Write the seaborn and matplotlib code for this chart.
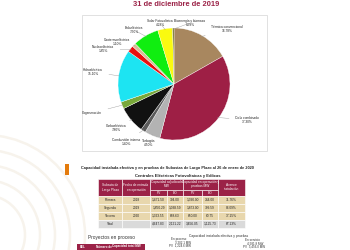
import matplotlib
matplotlib.use("Agg")
import matplotlib.pyplot as plt
import seaborn as sns
import numpy as np
from matplotlib.patches import Rectangle, Arc

# ---------------- data ----------------
tecnologias = ["Térmica convencional", "Ciclo combinado", "Turbogás", "Combustión interna",
               "Carboeléctrica", "Cogeneración", "Hidroeléctrica", "Nucleoeléctrica",
               "Geotermoeléctrica", "Eoloeléctrica", "Solar Fotovoltaica", "Bioenergía y biomasa"]
porcentajes = [16.78, 37.30, 4.50, 1.40, 7.80, 2.00, 15.10, 1.85, 1.10, 7.50, 4.28, 0.39]
colores = ["#a8875f", "#9e1f45", "#b3b3b3", "#5a5a5a", "#111111", "#79a83a",
           "#1de4f2", "#e81010", "#d8bc98", "#10ee10", "#fafa10", "#6b6b2a"]

subastas = ["Primera", "Segunda", "Tercera"]
fechas = ["2018", "2019", "2020"]
adj_pv = [1471.50, 1850.29, 1323.55]
adj_eo = [394.00, 1038.59, 688.63]
op_pv = [1390.00, 1873.00, 650.00]
op_eo = [344.00, 799.59, 60.75]
avance = [71.76, 86.09, 37.15]
total_row = [4647.83, 2121.22, 3456.05, 1125.73]
total_avance = 67.13

# ---------------- style ----------------
sns.set_theme(style="white")
plt.rcParams["font.family"] = ["Liberation Sans", "DejaVu Sans"]

W, H = 350, 250
fig = plt.figure(figsize=(3.5, 2.5), dpi=100)
bg = fig.add_axes([0, 0, 1, 1])
bg.set_xlim(0, W)
bg.set_ylim(H, 0)
bg.axis("off")

def ff(x, y):
    return x / W, 1 - y / H

MAROON = "#9b2247"

# faint watermark seal bottom-left
for r in [40, 55, 70, 85, 100]:
    bg.add_patch(Arc((-15, 235), 2 * r, 2 * r, theta1=250, theta2=110, angle=0,
                     color="#f7f3ec", lw=1.8, zorder=0))

# title
bg.text(176, 5, "31 de diciembre de 2019", color=MAROON, fontsize=5.4,
        fontweight="bold", ha="center", va="center")

# pie box
bg.add_patch(Rectangle((82, 15), 185, 136, facecolor="white", edgecolor="#dcdcdc", lw=0.6))

# pie
cx, cy, r = 174, 84, 56
pax = fig.add_axes([(cx - r) / W, 1 - (cy + r) / H, 2 * r / W, 2 * r / H])
wedges, _ = pax.pie(porcentajes, colors=colores, startangle=90, counterclock=False,
                    radius=1, wedgeprops=dict(linewidth=0.25, edgecolor="white"))
pax.set_xlim(-1, 1)
pax.set_ylim(-1, 1)
pax.set_aspect("equal")
pax.axis("off")

label_pos = {
    "Térmica convencional": (227, 29),
    "Ciclo combinado": (247, 120),
    "Turbogás": (149, 143),
    "Combustión interna": (126, 142),
    "Carboeléctrica": (116, 128),
    "Cogeneración": (92, 113),
    "Hidroeléctrica": (93, 72),
    "Nucleoeléctrica": (103, 49),
    "Geotermoeléctrica": (117, 42),
    "Eoloeléctrica": (134, 30),
    "Solar Fotovoltaica": (160, 23),
    "Bioenergía y biomasa": (190, 23),
}
for w, name, p in zip(wedges, tecnologias, porcentajes):
    ang = np.deg2rad((w.theta1 + w.theta2) / 2)
    xy = (np.cos(ang) * 0.98, np.sin(ang) * 0.98)
    txt = name if name == "Cogeneración" else f"{name}\n{p:.2f}%"
    pax.annotate(txt, xy=xy, xytext=ff(*label_pos[name]), textcoords="figure fraction",
                 fontsize=2.3, ha="center", va="center", color="#222222",
                 annotation_clip=False,
                 arrowprops=dict(arrowstyle="-", color="#9a9a9a", lw=0.3,
                                 shrinkA=2, shrinkB=0))

# ---------------- table section ----------------
bg.add_patch(Rectangle((65, 164), 4, 11, facecolor="#e47b0c", edgecolor="none"))
bg.text(81, 168, "Capacidad instalada efectiva y en pruebas de Subastas de Largo Plazo al 26 de enero de 2020",
        fontsize=2.75, fontweight="bold", va="center", ha="left", color="#222222")
bg.text(178, 176, "Centrales Eléctricas Fotovoltaicas y Eólicas", fontsize=3.0,
        fontweight="bold", va="center", ha="center", color="#222222")

col_edges = [98, 122, 150, 167, 183, 202, 218, 245]
h_top, h_mid, h_bot = 179, 189.5, 196
row_edges = [196, 204, 212, 220, 228]
TAN = "#e8d7ad"
GRAY = "#dadada"

def cell(x0, x1, y0, y1, fc, text="", tc="#222222", fs=2.3, bold=False):
    bg.add_patch(Rectangle((x0, y0), x1 - x0, y1 - y0, facecolor=fc, edgecolor="white", lw=0.4))
    if text:
        bg.text((x0 + x1) / 2, (y0 + y1) / 2, text, fontsize=fs, color=tc, ha="center",
                va="center", fontweight="bold" if bold else "normal", linespacing=1.0)

E = col_edges
cell(E[0], E[1], h_top, h_bot, MAROON, "Subasta de\nLargo Plazo", "white")
cell(E[1], E[2], h_top, h_bot, MAROON, "Fecha de entrada\nen operación", "white")
cell(E[2], E[4], h_top, h_mid, MAROON, "Capacidad adjudicada\nMW", "white")
cell(E[4], E[6], h_top, h_mid, MAROON, "Capacidad en operación y\npruebas MW", "white")
cell(E[6], E[7], h_top, h_bot, MAROON, "Avance\ninstalación", "white")
for i, t in enumerate(["PV", "EO", "PV", "EO"]):
    cell(E[2 + i], E[3 + i], h_mid, h_bot, MAROON, t, "white")

for k in range(3):
    y0, y1 = row_edges[k], row_edges[k + 1]
    vals = [subastas[k], fechas[k], f"{adj_pv[k]:,.2f}", f"{adj_eo[k]:,.2f}",
            f"{op_pv[k]:,.2f}", f"{op_eo[k]:,.2f}", f"{avance[k]:.2f}%"]
    for j, v in enumerate(vals):
        cell(E[j], E[j + 1], y0, y1, TAN, v)
vals = ["Total", ""] + [f"{v:,.2f}" for v in total_row] + [f"{total_avance:.2f}%"]
for j, v in enumerate(vals):
    cell(E[j], E[j + 1], row_edges[3], row_edges[4], GRAY, v)

# ---------------- bottom ----------------
bg.text(112, 238, "Proyectos en proceso", fontsize=3.4, ha="center", va="center", color="#333333")
bg.add_patch(Rectangle((77, 244), 68, 8, facecolor=MAROON, edgecolor="none"))
bg.text(80, 247.5, "EEL", fontsize=2.2, color="white", va="center", fontweight="bold")
bg.text(96, 247.5, "Número de", fontsize=2.2, color="white", va="center", fontweight="bold")
bg.text(112, 246.5, "Capacidad total MW", fontsize=2.2, color="white", va="center", fontweight="bold")

bg.text(219, 236, "Capacidad instalada efectiva y pruebas", fontsize=2.4, ha="center", va="center", color="#333333")
bg.text(171, 239, "En proceso", fontsize=2.2, ha="left", va="center", color="#333333")
bg.text(175, 242.5, "3,202.1 MW", fontsize=2.2, ha="left", va="center", color="#333333")
bg.text(169, 246, "PV  1,224.6 MW", fontsize=2.2, ha="left", va="center", color="#333333")
bg.text(245, 240, "En servicio", fontsize=2.2, ha="left", va="center", color="#333333")
bg.text(247, 243.5, "4,581.8 MW", fontsize=2.2, ha="left", va="center", color="#333333")
bg.text(243, 247, "PV  3,456.0 MW", fontsize=2.2, ha="left", va="center", color="#333333")

fig.savefig("out.png", dpi=100)
